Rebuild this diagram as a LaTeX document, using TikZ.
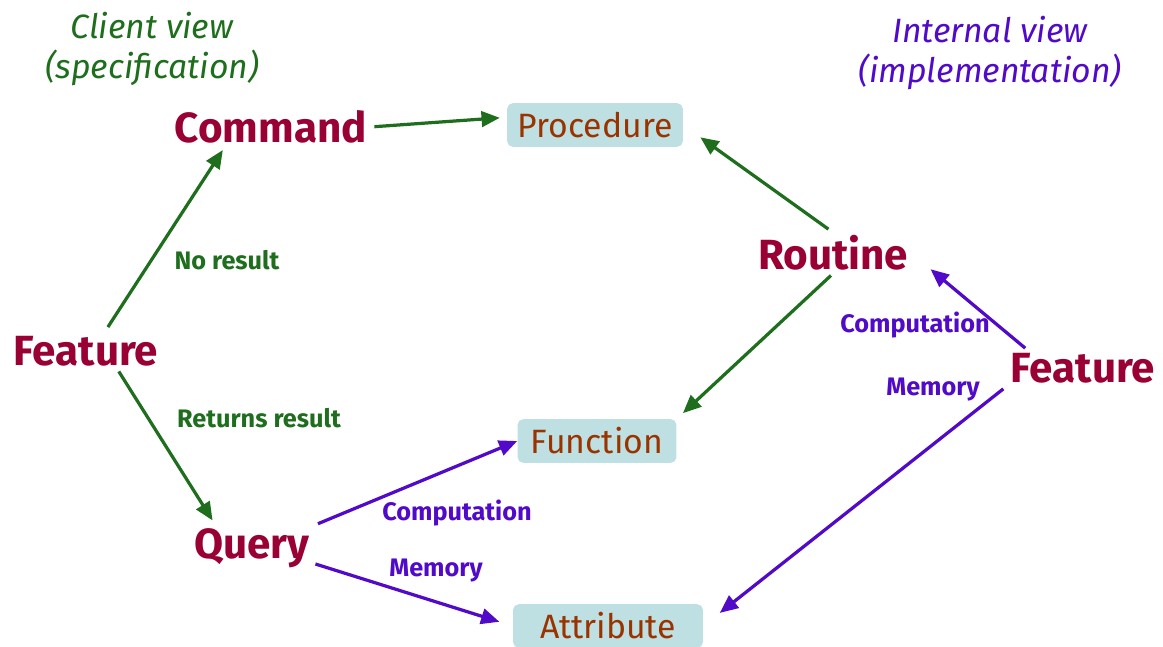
\documentclass[tikz,border=0pt]{standalone}
\usepackage{fontspec}
\setmainfont{Fira Sans}
\usetikzlibrary{arrows.meta}
\definecolor{termred}{RGB}{153,0,51}
\definecolor{boxtext}{RGB}{153,51,0}
\definecolor{boxfill}{RGB}{191,224,227}
\definecolor{clientgreen}{RGB}{30,110,30}
\definecolor{internalblue}{RGB}{80,10,200}
\tikzset{
	term/.style={text=termred, font=\fontsize{30}{32}\selectfont\bfseries, inner sep=2pt},
	kind/.style={fill=boxfill, rounded corners=4pt, text=boxtext, font=\fontsize{24}{26}\selectfont, minimum height=31pt, inner xsep=4pt},
	lbl/.style={font=\fontsize{18}{20}\selectfont\bfseries},
	view/.style={font=\fontsize{24}{28}\selectfont\itshape, align=center},
	spec/.style={line width=2.3pt, color=clientgreen, -{Triangle[length=13pt,width=11pt]}},
	impl/.style={line width=2.3pt, color=internalblue, -{Triangle[length=13pt,width=11pt]}}
}

\begin{document}
\begin{tikzpicture}[x=0.025cm, y=-0.025cm]
		%%%%% START %%%%%
		\useasboundingbox (0, 0) rectangle (1163, 646);
		
		\node[view, text=clientgreen] (client) at (152, 49) {Client view\\(specification)};
		\node[view, text=internalblue] (internal) at (990, 53) {Internal view\\(implementation)};
		
		\node[term] (cmd) at (271, 127) {Command};
		\node[term] (featL) at (86, 351) {Feature};
		\node[term] (query) at (252, 548) {Query};
		\node[term] (routine) at (833, 253) {Routine};
		\node[term] (featR) at (1083, 368) {Feature};
		
		\node[kind, minimum width=125pt] (proc) at (595, 125) {Procedure};
		\node[kind, minimum width=113pt] (func) at (597, 441) {Function};
		\node[kind, minimum width=135pt] (attr) at (608, 626) {Attribute};
		
		% client side
		\draw[spec, shorten <=3pt, shorten >=5pt] (cmd.east) -- (proc.175);
		\draw[spec, shorten <=5pt, shorten >=3pt] (featL.45) -- (cmd.203);
		\draw[spec, shorten <=2pt, shorten >=4pt] (featL.-30) -- (query.148);
		\node[lbl, text=clientgreen] (noRes) at (227, 260) {No result};
		\node[lbl, text=clientgreen] (retRes) at (259, 418) {Returns result};
		
		\draw[impl, shorten <=4pt] (query.20) -- (func.west);
		\draw[impl, shorten <=2pt, shorten >=10pt] (query.-14) -- (attr.west);
		\node[lbl, text=internalblue] (compL) at (457, 513) {Computation};
		\node[lbl, text=internalblue] (memL) at (436, 571) {Memory};
		
		% internal side
		\draw[spec, shorten <=4pt, shorten >=15pt] (routine.north) -- (proc.east);
		\draw[spec, shorten <=2pt, shorten >=6pt] (routine.south) -- (func.north east);
		\draw[impl, shorten <=2pt, shorten >=18pt] (featR.162) -- (routine.east);
		\draw[impl, shorten <=4pt, shorten >=15pt] (featR.193) -- (attr.east);
		\node[lbl, text=internalblue] (compR) at (915, 325) {Computation};
		\node[lbl, text=internalblue] (memR) at (933, 390) {Memory};
		
		%%%%% END %%%%%
\end{tikzpicture}
\end{document}
